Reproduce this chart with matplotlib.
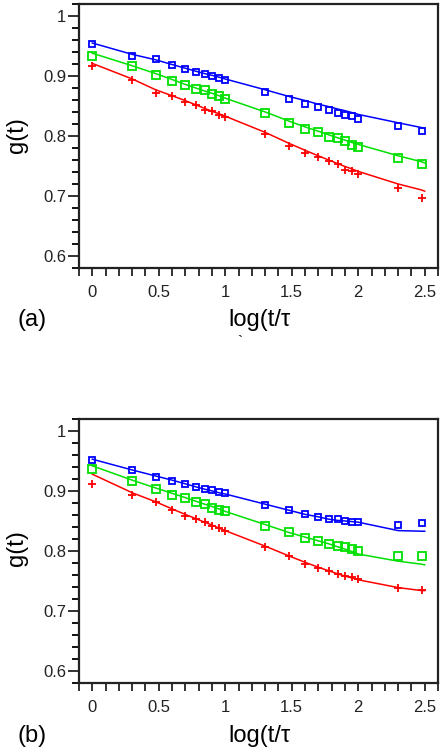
import matplotlib.pyplot as plt
from matplotlib.ticker import MultipleLocator

plt.rcParams['font.family'] = ['Liberation Sans', 'DejaVu Sans']

# log(t/tau) for t = 1..10, 20..100, 200, 300
log_t = [0, 0.301, 0.477, 0.602, 0.699, 0.778, 0.845, 0.903, 0.954, 1.0,
         1.301, 1.477, 1.602, 1.699, 1.778, 1.845, 1.903, 1.954, 2.0, 2.301, 2.477]
fit_x = log_t + [2.5]

# panel (a)
blue_a = [0.954, 0.933, 0.929, 0.918, 0.912, 0.906, 0.903, 0.900, 0.896, 0.893,
          0.873, 0.861, 0.853, 0.848, 0.843, 0.838, 0.835, 0.833, 0.828, 0.816, 0.808]
green_a = [0.933, 0.916, 0.902, 0.892, 0.885, 0.879, 0.876, 0.870, 0.866, 0.862,
           0.838, 0.822, 0.812, 0.806, 0.799, 0.796, 0.791, 0.785, 0.782, 0.764, 0.754]
red_a = [0.916, 0.893, 0.871, 0.866, 0.857, 0.852, 0.844, 0.841, 0.835, 0.831,
         0.803, 0.784, 0.772, 0.765, 0.759, 0.753, 0.744, 0.742, 0.737, 0.714, 0.696]
blue_fit_a = [0.955, 0.936, 0.927, 0.919, 0.913, 0.908, 0.904, 0.901, 0.898, 0.895, 0.877,
              0.866, 0.859, 0.853, 0.849, 0.845, 0.842, 0.839, 0.836, 0.822, 0.814, 0.813]
green_fit_a = [0.938, 0.917, 0.904, 0.894, 0.886, 0.880, 0.875, 0.871, 0.867, 0.863, 0.840,
               0.825, 0.815, 0.808, 0.802, 0.797, 0.793, 0.789, 0.786, 0.767, 0.757, 0.755]
red_fit_a = [0.921, 0.895, 0.877, 0.867, 0.859, 0.852, 0.846, 0.841, 0.837, 0.833, 0.806,
             0.788, 0.776, 0.767, 0.760, 0.754, 0.749, 0.745, 0.741, 0.720, 0.710, 0.708]

# panel (b)
blue_b = [0.952, 0.935, 0.924, 0.917, 0.911, 0.906, 0.903, 0.902, 0.898, 0.896,
          0.877, 0.868, 0.861, 0.857, 0.853, 0.853, 0.850, 0.849, 0.849, 0.843, 0.847]
green_b = [0.937, 0.916, 0.903, 0.894, 0.888, 0.881, 0.878, 0.872, 0.869, 0.866,
           0.842, 0.831, 0.821, 0.816, 0.811, 0.809, 0.806, 0.803, 0.800, 0.791, 0.791]
red_b = [0.911, 0.894, 0.881, 0.868, 0.859, 0.853, 0.848, 0.842, 0.838, 0.833,
         0.806, 0.791, 0.779, 0.772, 0.767, 0.762, 0.759, 0.756, 0.753, 0.738, 0.735]
blue_fit_b = [0.953, 0.935, 0.925, 0.918, 0.912, 0.907, 0.903, 0.900, 0.897, 0.895, 0.878,
              0.868, 0.861, 0.857, 0.853, 0.851, 0.850, 0.849, 0.848, 0.834, 0.833, 0.833]
green_fit_b = [0.942, 0.918, 0.905, 0.896, 0.889, 0.883, 0.878, 0.874, 0.870, 0.866, 0.844,
               0.831, 0.823, 0.817, 0.812, 0.807, 0.803, 0.799, 0.795, 0.783, 0.778, 0.777]
red_fit_b = [0.928, 0.897, 0.882, 0.870, 0.861, 0.854, 0.848, 0.843, 0.838, 0.834, 0.808,
             0.792, 0.781, 0.773, 0.767, 0.762, 0.758, 0.755, 0.752, 0.739, 0.734, 0.734]

W, H = 443, 752
fig = plt.figure(figsize=(W / 100, H / 100), dpi=100)


def make_panel(top_px, bottom_px, blue, green, red, bfit, gfit, rfit):
    ax = fig.add_axes([79 / W, 1 - bottom_px / H, (438 - 79) / W, (bottom_px - top_px) / H])
    ax.plot(fit_x, bfit, color='#0000ff', lw=1.1)
    ax.plot(fit_x, gfit, color='#00e000', lw=1.1)
    ax.plot(fit_x, rfit, color='#ff0000', lw=1.1)
    ax.plot(log_t, blue, 's', mfc='none', mec='#0000ff', ms=4.5, mew=1.3)
    ax.plot(log_t, green, 's', mfc='none', mec='#00e000', ms=6, mew=1.3)
    ax.plot(log_t, red, '+', color='#ff0000', ms=6, mew=1.3)
    ax.set_xlim(-0.1, 2.6)
    ax.set_ylim(0.58, 1.02)
    ax.xaxis.set_major_locator(MultipleLocator(0.5))
    ax.xaxis.set_minor_locator(MultipleLocator(0.1))
    ax.yaxis.set_major_locator(MultipleLocator(0.1))
    ax.yaxis.set_minor_locator(MultipleLocator(0.02))
    ax.xaxis.set_major_formatter(plt.FuncFormatter(lambda v, p: f'{v:g}'))
    ax.yaxis.set_major_formatter(plt.FuncFormatter(lambda v, p: f'{v:g}'))
    ax.tick_params(axis='x', which='both', direction='out', length=6, width=1.3,
                   pad=6, labelsize=12, colors='#222222')
    ax.tick_params(axis='y', which='major', direction='out', length=8, width=1.3,
                   pad=1, labelsize=12, colors='#222222')
    ax.tick_params(axis='y', which='minor', direction='out', length=5, width=1.3)
    for s in ax.spines.values():
        s.set_linewidth(1.6)
        s.set_color('#222222')
    return ax


make_panel(4, 268, blue_a, green_a, red_a, blue_fit_a, green_fit_a, red_fit_a)
make_panel(419, 683, blue_b, green_b, red_b, blue_fit_b, green_fit_b, red_fit_b)


def ftext(x, y, s, size=17, **kw):
    fig.text(x / W, 1 - y / H, s, ha='center', va='center', fontsize=size, **kw)


ftext(17, 135, 'g(t)', rotation=90)
ftext(32, 320, '(a)')
ftext(260, 320, 'log(t/τ')
ftext(240, 342, '`', size=11)
ftext(17, 548, 'g(t)', rotation=90)
ftext(32, 736, '(b)')
ftext(260, 736, 'log(t/τ')

fig.savefig('out.png', dpi=100)
